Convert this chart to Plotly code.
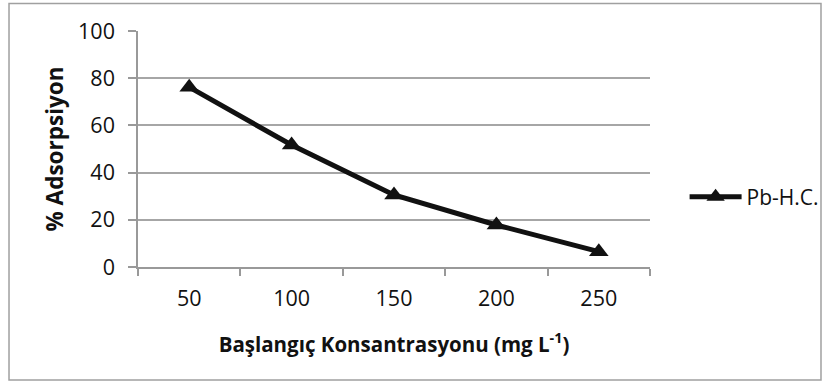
import plotly.graph_objects as go

categories = ["50", "100", "150", "200", "250"]
adsorption = [76.2, 51.7, 30.5, 17.8, 6.5]
series_name = "Pb-H.C."
y_ticks = [0, 20, 40, 60, 80, 100]

W, H = 836, 384
L, R, T, B = 138, 180, 31, 117
pw, ph = W - L - R, H - T - B

def px2x(p):
    return (p - L) / pw

def px2y(p):
    return (H - B - p) / ph

fig = go.Figure()
fig.add_trace(go.Scatter(
    x=categories, y=adsorption, name=series_name, mode="lines+markers",
    line=dict(color="#111111", width=5),
    marker=dict(symbol="triangle-up", size=17, color="#111111"),
))

font = "Open Sans"
fig.update_layout(
    width=W, height=H,
    margin=dict(l=L, r=R, t=T, b=B),
    paper_bgcolor="white", plot_bgcolor="white",
    font=dict(family=font, size=21, color="#111111"),
    showlegend=True,
    legend=dict(x=px2x(691), y=px2y(197), xanchor="left", yanchor="middle",
                font=dict(size=21, family=font), bgcolor="rgba(0,0,0,0)",
                itemwidth=52),
    xaxis=dict(
        type="category", categoryorder="array", categoryarray=categories,
        range=[-0.5, 4.5], tickson="boundaries", ticks="outside", ticklen=7,
        tickcolor="#999999", tickwidth=1.5, showgrid=False,
        showline=True, linecolor="#999999", linewidth=1.5,
        tickfont=dict(size=21.5), ticklabelstandoff=11,
        title=dict(text="<b>Başlangıç Konsantrasyonu (mg L<sup>-1</sup>)</b>",
                   font=dict(size=20.5), standoff=27),
    ),
    yaxis=dict(
        range=[0, 100], tickvals=y_ticks, ticks="outside", ticklen=8,
        tickcolor="#999999", tickwidth=1.5, showgrid=True,
        gridcolor="#a6a6a6", gridwidth=1.5, zeroline=False,
        showline=True, linecolor="#999999", linewidth=1.5,
        tickfont=dict(size=21.5), ticklabelstandoff=9,
        title=dict(text="<b>% Adsorpsiyon</b>", font=dict(size=22.5), standoff=8),
    ),
    shapes=[dict(type="rect", xref="paper", yref="paper",
                 x0=px2x(7.5), x1=px2x(829), y0=px2y(380), y1=px2y(3.5),
                 line=dict(color="#a0a0a0", width=1.5), layer="below")],
)

fig.write_html("out.html")
